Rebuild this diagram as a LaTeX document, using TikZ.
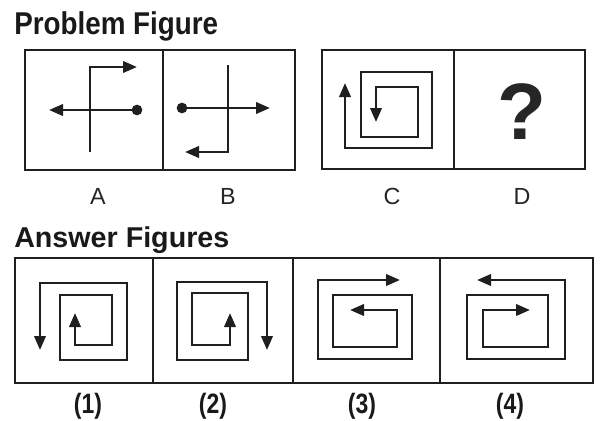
\documentclass[tikz,border=0pt]{standalone}
\usepackage{fontspec}
\setmainfont{Liberation Sans}
\usetikzlibrary{arrows.meta}
\begin{document}
\begin{tikzpicture}[x=0.75pt,y=-0.75pt,
  frame/.style={line width=2.2pt, draw=black!88},
  fig/.style={line width=2pt, draw=black!88, line join=miter},
  tip/.style={-{Triangle[length=10.5pt,width=8.5pt]}},
  tips/.style={{Triangle[length=10.5pt,width=8.5pt]}-{Triangle[length=10.5pt,width=8.5pt]}},
  dot/.style={circle, fill=black!88, inner sep=0, minimum size=8pt},
  title/.style={font=\bfseries\fontsize{21.5}{24}\selectfont, anchor=base west, inner sep=0, text=black!90},
  lab/.style={font=\fontsize{17.5}{20}\selectfont, anchor=base, inner sep=0, text=black!85},
  num/.style={font=\bfseries\fontsize{21}{24}\selectfont, anchor=base, inner sep=0, text=black!90}]
\useasboundingbox[fill=white] (0,0) rectangle (600,421);

% titles
\node[title] (t1) at (14,35) {\scalebox{0.97}[1.1]{Problem Figure}};
\node[title] (t2) at (14,247) {Answer Figures};

% problem frames
\draw[frame] (25,50) rectangle (295,170);
\draw[frame] (163,50) -- (163,170);
\draw[frame] (322,50) rectangle (585,169);
\draw[frame] (454,50) -- (454,169);

% figure A
\node[dot] (da) at (137,110) {};
\coordinate (al) at (49,110);
\draw[fig, tip] (90,152) -- (90,67) -- (137,67);
\draw[fig, tip] (da.center) -- (al);

% figure B
\node[dot] (db) at (182,108) {};
\coordinate (br) at (270,108);
\draw[fig, tip] (228,65) -- (228,152) -- (185,152);
\draw[fig, tip] (db.center) -- (br);

% figure C
\draw[fig, tips] (345,83) -- (345,148) -- (432,148) -- (432,72) -- (361,72) -- (361,137)
  -- (418,137) -- (418,87) -- (376,87) -- (376,122);

% figure D
\node[font=\bfseries\fontsize{60}{64}\selectfont, anchor=base, inner sep=0, text=black!85] (q) at (522,139) {?};

% labels
\node[lab] (la) at (98,204) {A};
\node[lab] (lb) at (228,204) {B};
\node[lab] (lc) at (392,204) {C};
\node[lab] (ld) at (522,204) {D};

% answer frames
\draw[frame] (15,258) rectangle (593,383);
\draw[frame] (153,258) -- (153,383);
\draw[frame] (293,258) -- (293,383);
\draw[frame] (440,258) -- (440,383);

% answer 1
\draw[fig, tips] (40,350) -- (40,283) -- (127,283) -- (127,360) -- (60,360) -- (60,295)
  -- (112,295) -- (112,345) -- (75,345) -- (75,313);
% answer 2
\draw[fig, tips] (267,350) -- (267,282) -- (177,282) -- (177,360) -- (248,360) -- (248,293)
  -- (192,293) -- (192,345) -- (230,345) -- (230,313);
% answer 3
\draw[fig, tips] (400,280) -- (318,280) -- (318,359) -- (412,359) -- (412,295) -- (333,295)
  -- (333,347) -- (397,347) -- (397,310) -- (350,310);
% answer 4
\draw[fig, tips] (477,280) -- (565,280) -- (565,359) -- (467,359) -- (467,295) -- (548,295)
  -- (548,347) -- (483,347) -- (483,310) -- (530,310);

% answer labels
\node[num] (n1) at (88,413) {\scalebox{0.82}[1]{(1)}};
\node[num] (n2) at (213,413) {\scalebox{0.82}[1]{(2)}};
\node[num] (n3) at (362,413) {\scalebox{0.82}[1]{(3)}};
\node[num] (n4) at (510,413) {\scalebox{0.82}[1]{(4)}};
\end{tikzpicture}
\end{document}
